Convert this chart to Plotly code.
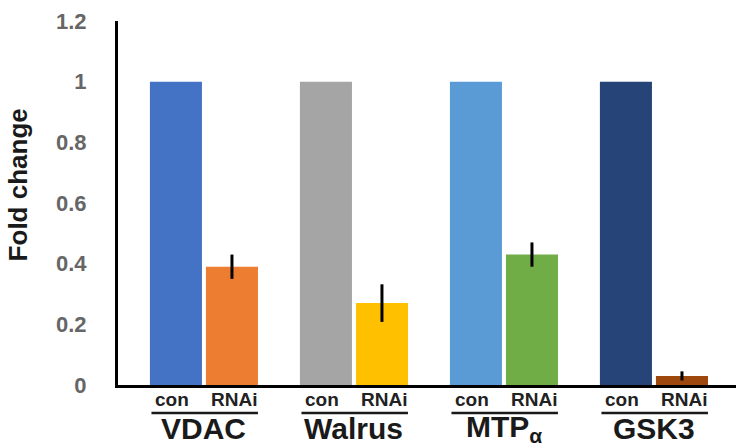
import plotly.graph_objects as go

# Data
genes = ["VDAC", "Walrus", "MTP<sub>α</sub>", "GSK3"]
conditions = ["con", "RNAi"]
con_values = [1.0, 1.0, 1.0, 1.0]
rnai_values = [0.39, 0.27, 0.43, 0.03]
rnai_errors = [0.04, 0.062, 0.04, 0.015]
con_colors = ["#4472C4", "#A5A5A5", "#5B9BD5", "#264478"]
rnai_colors = ["#ED7D31", "#FFC000", "#70AD47", "#9E480E"]
y_ticks = [0, 0.2, 0.4, 0.6, 0.8, 1, 1.2]
y_ticklabels = ["0", "0.2", "0.4", "0.6", "0.8", "1", "1.2"]

x_idx = list(range(len(genes)))

fig = go.Figure()
fig.add_trace(go.Bar(
    x=x_idx, y=con_values, name="con",
    marker=dict(color=con_colors, line=dict(width=0)),
    offsetgroup="con",
))
fig.add_trace(go.Bar(
    x=x_idx, y=rnai_values, name="RNAi",
    marker=dict(color=rnai_colors, line=dict(width=0)),
    error_y=dict(type="data", array=rnai_errors, visible=True,
                 color="black", thickness=3, width=0),
    offsetgroup="RNAi",
))

FONT = "Liberation Sans, Arial, sans-serif"

# Condition labels, underline and gene names under each pair
for i, g in enumerate(genes):
    for off, cond in zip([-0.21, 0.2], conditions):
        fig.add_annotation(x=i + off, y=-0.041, xref="x", yref="paper",
                           text=f"<b>{cond}</b>", showarrow=False,
                           font=dict(size=19, family=FONT, color="#222222"),
                           yanchor="middle")
    fig.add_shape(type="line", xref="x", yref="paper",
                  x0=i - 0.35, x1=i + 0.36, y0=-0.077, y1=-0.077,
                  line=dict(color="#1a1a1a", width=2.5))
    fig.add_annotation(x=i, y=-0.12, xref="x", yref="paper",
                       text=f"<b>{g}</b>", showarrow=False,
                       font=dict(size=30, family=FONT, color="#1a1a1a"),
                       yanchor="middle")

# Rotated y-axis title
fig.add_annotation(x=-0.19, y=0.55, xref="paper", yref="paper",
                   text="<b>Fold change</b>", showarrow=False, textangle=-90,
                   font=dict(size=26, family=FONT, color="#1a1a1a"))

fig.update_layout(
    width=736, height=446,
    margin=dict(l=118, r=0, t=21, b=61),
    paper_bgcolor="white", plot_bgcolor="white",
    showlegend=False,
    barmode="group",
    bargap=0.253, bargroupgap=0.071,
    xaxis=dict(range=[-0.573, 3.547], showticklabels=False, ticks="",
               showgrid=False, zeroline=False, showline=True,
               linecolor="black", linewidth=3),
    yaxis=dict(range=[0, 1.2], tickvals=y_ticks, ticktext=y_ticklabels,
               tickfont=dict(size=22, family=FONT, color="#666666", weight="bold"),
               ticks="", ticklabelstandoff=24, showgrid=False, zeroline=False,
               showline=True, linecolor="black", linewidth=3),
)

fig.write_html("out.html")
